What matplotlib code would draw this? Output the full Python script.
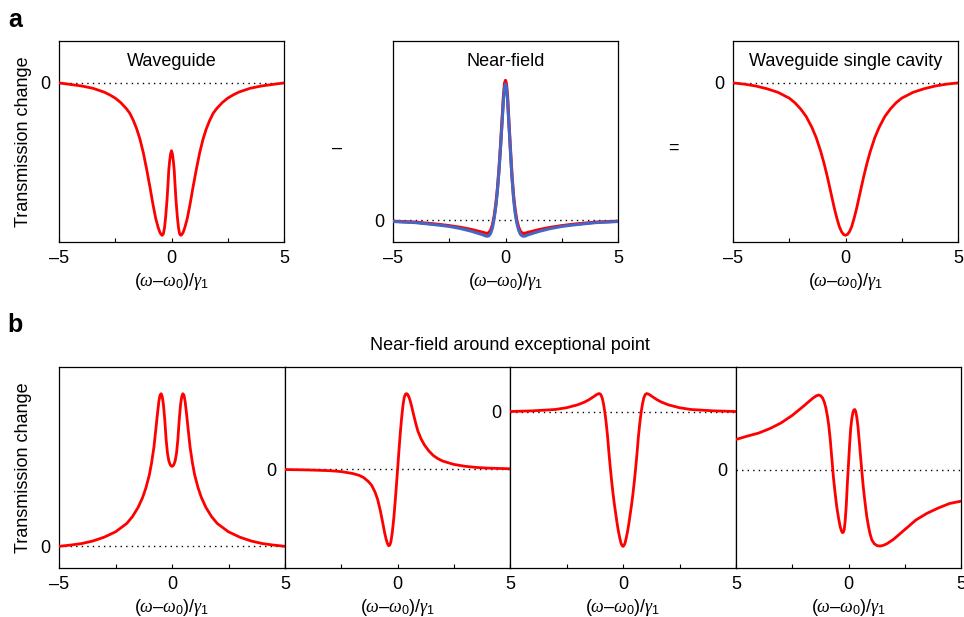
import matplotlib
matplotlib.use("Agg")
import matplotlib.pyplot as plt

plt.rcParams['font.family'] = ['Liberation Sans', 'DejaVu Sans']
plt.rcParams['mathtext.fontset'] = 'custom'
plt.rcParams['mathtext.rm'] = 'Liberation Sans'
plt.rcParams['mathtext.it'] = 'Liberation Serif:italic'
plt.rcParams['mathtext.bf'] = 'Liberation Sans:bold'

# ---------------- data ----------------
# Panel a1: Waveguide
wg_x = [-5, -4.5, -4, -3.5, -3, -2.75, -2.5, -2.25, -2, -1.85, -1.7, -1.55, -1.4, -1.25, -1.1, -0.95,
        -0.82, -0.7, -0.6, -0.52, -0.46, -0.41, -0.36, -0.31, -0.26, -0.2, -0.15, -0.12, -0.08, -0.04, 0,
        0.04, 0.08, 0.12, 0.15, 0.2, 0.26, 0.31, 0.36, 0.41, 0.46, 0.52, 0.6, 0.7, 0.82,
        0.95, 1.1, 1.25, 1.4, 1.55, 1.7, 1.85, 2, 2.25, 2.5, 2.75, 3, 3.5, 4, 4.5, 5]
wg_y = [0, -0.01, -0.02, -0.035, -0.06, -0.078, -0.1, -0.13, -0.17, -0.2, -0.245, -0.3, -0.37, -0.46, -0.57, -0.69,
        -0.8, -0.89, -0.945, -0.98, -0.995, -1.0, -0.99, -0.95, -0.88, -0.77, -0.65, -0.57, -0.51, -0.465, -0.445,
        -0.465, -0.51, -0.57, -0.65, -0.77, -0.88, -0.95, -0.99, -1.0, -0.995, -0.98, -0.945, -0.89, -0.8,
        -0.69, -0.57, -0.46, -0.37, -0.3, -0.245, -0.2, -0.17, -0.13, -0.1, -0.078, -0.06, -0.035, -0.02, -0.01, 0]

# Panel a2: Near-field (red and blue)
nf_x = [-5, -4, -3, -2.5, -2, -1.5, -1.2, -1, -0.9, -0.82, -0.74, -0.66, -0.58, -0.5, -0.43, -0.36, -0.29,
        -0.22, -0.15, -0.09, -0.04, 0, 0.04, 0.09, 0.15, 0.22, 0.29, 0.36, 0.43, 0.5, 0.58, 0.66, 0.74,
        0.82, 0.9, 1, 1.2, 1.5, 2, 2.5, 3, 4, 5]
nf_red = [-0.008, -0.015, -0.03, -0.04, -0.052, -0.068, -0.08, -0.088, -0.093, -0.095, -0.09, -0.072, -0.035, 0.03,
          0.11, 0.22, 0.36, 0.53, 0.72, 0.88, 0.975, 0.995, 0.97, 0.88, 0.7, 0.5, 0.31, 0.17, 0.07, 0.0, -0.05,
          -0.08, -0.093, -0.095, -0.093, -0.088, -0.08, -0.068, -0.052, -0.04, -0.03, -0.015, -0.008]
nf_blue = [-0.01, -0.018, -0.035, -0.045, -0.06, -0.08, -0.095, -0.105, -0.112, -0.115, -0.112, -0.095, -0.055, 0.015,
           0.1, 0.21, 0.35, 0.52, 0.7, 0.86, 0.95, 0.97, 0.95, 0.86, 0.69, 0.49, 0.3, 0.15, 0.05, -0.02, -0.07,
           -0.1, -0.113, -0.115, -0.112, -0.105, -0.095, -0.08, -0.06, -0.045, -0.035, -0.018, -0.01]

# Panel a3: Waveguide single cavity
sc_x = [-5, -4.5, -4, -3.5, -3, -2.5, -2.25, -2, -1.75, -1.5, -1.3, -1.1, -0.95, -0.8, -0.65, -0.5, -0.38,
        -0.27, -0.17, -0.08, 0, 0.08, 0.17, 0.27, 0.38, 0.5, 0.65, 0.8, 0.95, 1.1, 1.3, 1.5, 1.75, 2,
        2.25, 2.5, 3, 3.5, 4, 4.5, 5]
sc_y = [0, -0.008, -0.02, -0.038, -0.062, -0.1, -0.13, -0.17, -0.22, -0.29, -0.36, -0.45, -0.53, -0.62, -0.72,
        -0.82, -0.89, -0.945, -0.978, -0.995, -1.0, -0.995, -0.978, -0.945, -0.89, -0.82, -0.72, -0.62, -0.53,
        -0.45, -0.36, -0.29, -0.22, -0.17, -0.13, -0.1, -0.062, -0.038, -0.02, -0.008, 0]

# Panel b1
b1_x = [-5, -4.5, -4, -3.5, -3, -2.5, -2, -1.75, -1.5, -1.3, -1.15, -1, -0.9, -0.8, -0.72, -0.65, -0.58,
        -0.53, -0.48, -0.43, -0.38, -0.32, -0.26, -0.2, -0.14, -0.08, -0.04, 0, 0.04, 0.08, 0.14, 0.2,
        0.26, 0.32, 0.38, 0.43, 0.48, 0.53, 0.58, 0.65, 0.72, 0.8, 0.9, 1, 1.15, 1.3, 1.5, 1.75, 2,
        2.5, 3, 3.5, 4, 4.5, 5]
b1_y = [0, 0.008, 0.018, 0.035, 0.06, 0.095, 0.15, 0.195, 0.255, 0.32, 0.385, 0.47, 0.55, 0.65, 0.76, 0.86, 0.95,
        0.99, 1.0, 0.98, 0.93, 0.83, 0.7, 0.61, 0.56, 0.535, 0.527, 0.524, 0.527, 0.535, 0.56, 0.61,
        0.7, 0.83, 0.93, 0.98, 1.0, 0.99, 0.95, 0.86, 0.76, 0.65, 0.55, 0.47, 0.385, 0.32, 0.255, 0.195, 0.15,
        0.095, 0.06, 0.035, 0.018, 0.008, 0]

# Panel b2
b2_x = [-5, -4, -3, -2.5, -2, -1.7, -1.5, -1.3, -1.15, -1, -0.88, -0.76, -0.66, -0.57, -0.5, -0.44, -0.39,
        -0.34, -0.29, -0.23, -0.17, -0.11, -0.05, 0.01, 0.07, 0.13, 0.19, 0.25, 0.3, 0.35, 0.4, 0.45, 0.5,
        0.56, 0.63, 0.7, 0.8, 0.9, 1.05, 1.2, 1.4, 1.6, 1.8, 2, 2.5, 3, 3.5, 4, 5]
b2_y = [-0.003, -0.008, -0.018, -0.03, -0.055, -0.08, -0.11, -0.16, -0.21, -0.3, -0.4, -0.55, -0.7, -0.84, -0.93,
        -0.985, -1.01, -1.0, -0.95, -0.83, -0.66, -0.45, -0.22, 0.02, 0.27, 0.5, 0.7, 0.86, 0.95, 0.99, 1.0,
        0.99, 0.96, 0.91, 0.83, 0.74, 0.62, 0.51, 0.4, 0.32, 0.24, 0.18, 0.14, 0.11, 0.065, 0.04, 0.025,
        0.016, 0.007]

# Panel b3
b3_x = [-5, -4, -3, -2.5, -2, -1.7, -1.5, -1.3, -1.18, -1.1, -1.04, -0.98, -0.92, -0.86, -0.8, -0.74, -0.68,
        -0.62, -0.56, -0.5, -0.44, -0.38, -0.32, -0.26, -0.2, -0.14, -0.09, -0.045, 0, 0.045, 0.09, 0.14,
        0.2, 0.26, 0.32, 0.38, 0.44, 0.5, 0.56, 0.62, 0.68, 0.74, 0.8, 0.86, 0.92, 0.98, 1.04, 1.1, 1.18,
        1.3, 1.5, 1.7, 2, 2.5, 3, 4, 5]
b3_y = [0, 0.005, 0.015, 0.028, 0.05, 0.07, 0.088, 0.11, 0.124, 0.131, 0.133, 0.125, 0.1, 0.055, -0.01, -0.09,
        -0.19, -0.31, -0.42, -0.52, -0.61, -0.69, -0.76, -0.83, -0.89, -0.94, -0.975, -0.993, -1.0, -0.993,
        -0.975, -0.94, -0.89, -0.83, -0.76, -0.69, -0.61, -0.52, -0.42, -0.31, -0.19, -0.09, -0.01, 0.055,
        0.1, 0.125, 0.133, 0.131, 0.124, 0.11, 0.088, 0.07, 0.05, 0.028, 0.015, 0.005, 0]

# Panel b4
b4_x = [-5, -4.5, -4, -3.5, -3, -2.5, -2, -1.75, -1.55, -1.42, -1.33, -1.24, -1.15, -1.07, -1.0, -0.94, -0.88,
        -0.81, -0.74, -0.67, -0.6, -0.52, -0.44, -0.37, -0.31, -0.27, -0.23, -0.19, -0.15, -0.1, -0.05, 0.0,
        0.05, 0.1, 0.15, 0.2, 0.24, 0.28, 0.32, 0.37, 0.42, 0.47, 0.53, 0.59, 0.66, 0.74, 0.81, 0.89, 0.96,
        1.04, 1.15, 1.28, 1.41, 1.55, 1.7, 2.0, 2.5, 3, 3.5, 4, 4.5, 5]
b4_y = [0.405, 0.45, 0.49, 0.55, 0.626, 0.727, 0.85, 0.915, 0.965, 0.99, 1.0, 0.99, 0.96, 0.9, 0.82, 0.72, 0.6,
        0.4, 0.15, -0.1, -0.3, -0.5, -0.65, -0.76, -0.82, -0.84, -0.835, -0.8, -0.69, -0.48, -0.18, 0.08,
        0.34, 0.56, 0.69, 0.77, 0.8, 0.806, 0.78, 0.7, 0.58, 0.41, 0.2, -0.01, -0.24, -0.45, -0.62, -0.76,
        -0.86, -0.94, -0.99, -1.015, -1.02, -1.01, -0.99, -0.93, -0.8, -0.67, -0.58, -0.51, -0.45, -0.42]

titles_a = ["Waveguide", "Near-field", "Waveguide single cavity"]
xtick_labels_full = ["\u20135", "0", "5"]
xtick_labels_cont = ["", "0", "5"]
ylabel = "Transmission change"
xlabel = "$(\\omega$\u2013$\\omega_0)/\\gamma_1$"
b_title = "Near-field around exceptional point"

RED = "#ff0000"
BLUE = "#4466c4"
FS = 13

W, H = 964, 617
fig = plt.figure(figsize=(W / 100, H / 100), dpi=100)


def make_ax(l, r, t, b):
    return fig.add_axes([l / W, 1 - b / H, (r - l) / W, (b - t) / H])


def style(ax, ylim, labels):
    ax.set_xlim(-5, 5)
    ax.set_ylim(*ylim)
    ax.set_xticks([-5, 0, 5])
    ax.set_xticklabels(labels, fontsize=FS)
    ax.set_xticks([-2.5, 2.5], minor=True)
    ax.tick_params(axis='x', which='both', direction='in', length=3, width=0.8, pad=6)
    ax.set_yticks([0])
    ax.set_yticklabels(["0"], fontsize=FS)
    ax.tick_params(axis='y', length=0, pad=6)
    ax.axhline(0, color='black', lw=1.0, ls=(0, (1, 3)), zorder=1)
    for s in ax.spines.values():
        s.set_linewidth(0.9)
    ax.set_xlabel(xlabel, fontsize=FS, labelpad=3)


lw = 2.0
kw = dict(solid_joinstyle='round', solid_capstyle='round', zorder=3)

# ---- panel a ----
a1 = make_ax(59, 284, 41, 242)
a1.plot(wg_x, wg_y, color=RED, lw=lw, **kw)
style(a1, (-1.044, 0.275), xtick_labels_full)
a1.set_ylabel(ylabel, fontsize=FS, labelpad=6)
a1.text(0.5, 0.9, titles_a[0], transform=a1.transAxes, ha='center', va='center', fontsize=FS)

a2 = make_ax(393, 618, 41, 242)
a2.plot(nf_x, nf_red, color=RED, lw=lw + 0.3, **kw)
a2.plot(nf_x, nf_blue, color=BLUE, lw=lw + 0.2, solid_joinstyle='round', zorder=4)
style(a2, (-0.156, 1.276), xtick_labels_full)
a2.text(0.5, 0.9, titles_a[1], transform=a2.transAxes, ha='center', va='center', fontsize=FS)

a3 = make_ax(733, 958, 41, 242)
a3.plot(sc_x, sc_y, color=RED, lw=lw, **kw)
style(a3, (-1.044, 0.275), xtick_labels_full)
a3.text(0.5, 0.9, titles_a[2], transform=a3.transAxes, ha='center', va='center', fontsize=FS)

fig.text(337 / W, 1 - 148 / H, "\u2013", ha='center', va='center', fontsize=FS)
fig.text(673 / W, 1 - 148 / H, "=", ha='center', va='center', fontsize=FS)

# ---- panel b ----
b1 = make_ax(59, 285, 367, 568)
b1.plot(b1_x, b1_y, color=RED, lw=lw, **kw)
style(b1, (-0.142, 1.175), xtick_labels_full)
b1.set_ylabel(ylabel, fontsize=FS, labelpad=6)

b2 = make_ax(285, 510, 367, 568)
b2.plot(b2_x, b2_y, color=RED, lw=lw, **kw)
style(b2, (-1.303, 1.351), xtick_labels_cont)

b3 = make_ax(510, 736, 367, 568)
b3.plot(b3_x, b3_y, color=RED, lw=lw, **kw)
style(b3, (-1.16, 0.33), xtick_labels_cont)

b4 = make_ax(736, 961, 367, 568)
b4.plot(b4_x, b4_y, color=RED, lw=lw, **kw)
style(b4, (-1.313, 1.374), xtick_labels_cont)

fig.text(510 / W, 1 - 346 / H, b_title, ha='center', va='center', fontsize=FS)

fig.text(15 / W, 1 - 20 / H, "a", ha='center', va='center', fontsize=18, fontweight='bold')
fig.text(15 / W, 1 - 325 / H, "b", ha='center', va='center', fontsize=18, fontweight='bold')

fig.savefig("out.png", dpi=100)
